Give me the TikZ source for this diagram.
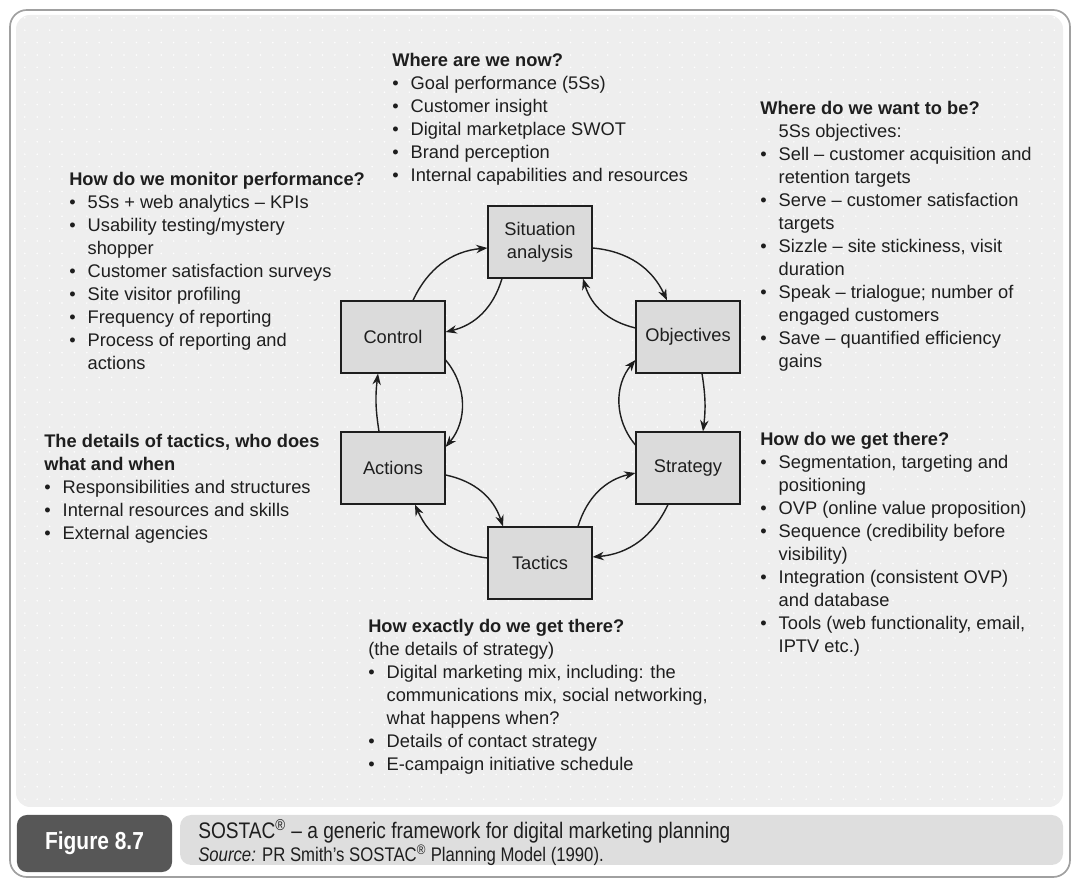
\documentclass[tikz,border=0pt]{standalone}
\usepackage{fontspec}
\setmainfont{Liberation Sans}
\newfontfamily\capfont[FakeStretch=0.85]{Liberation Sans}
\usepackage{tikz}
\usetikzlibrary{arrows.meta,patterns.meta}

\definecolor{panel}{HTML}{EEEEEE}
\definecolor{boxfill}{HTML}{DBDBDB}
\definecolor{ink}{HTML}{1E1E1E}
\definecolor{figbox}{HTML}{575757}
\definecolor{capbar}{HTML}{DEDEDE}
\definecolor{frame}{HTML}{A0A0A0}

\newcommand{\itm}[1]{\makebox[0.46cm][l]{\textbullet}#1}
\newcommand{\nxt}{\hspace*{0.46cm}}

\begin{document}
\begin{tikzpicture}[x=0.025cm,y=0.025cm,
  stage/.style={draw=ink,line width=0.8pt,fill=boxfill,minimum width=2.6cm,minimum height=1.8cm,align=center,text=ink,font=\fontsize{13}{16.35}\selectfont},
  info/.style={anchor=north west,align=left,inner sep=0pt,text=ink,font=\fontsize{13}{16.35}\selectfont},
  flow/.style={-{Stealth[length=8pt,width=6pt]},draw=ink,line width=1pt}]
\useasboundingbox (0,0) rectangle (1080,886);

% frame and panel
\draw[frame,line width=1.2pt,rounded corners=12pt] (10,9) rectangle (1070,876);
\fill[panel,rounded corners=10pt] (16,79) rectangle (1063,871);
\fill[pattern={Dots[distance=0.31cm,radius=0.6pt]},pattern color=white,rounded corners=10pt] (16,79) rectangle (1063,871);

% the six stages
\node[stage] (sit) at (540,644) {Situation\\analysis};
\node[stage] (obj) at (688,549) {Objectives};
\node[stage] (str) at (688,418) {Strategy};
\node[stage] (tac) at (540,323) {Tactics};
\node[stage] (act) at (393,418) {Actions};
\node[stage] (ctrl) at (393,549) {Control};

% outer loop
\path ([yshift=-0.15cm]sit.east) edge[flow,bend left=30] ([xshift=-0.525cm]obj.north);
\path ([xshift=0.35cm]obj.south) edge[flow,bend left=8] ([xshift=0.375cm]str.north);
\path ([xshift=-0.5cm]str.south) edge[flow,bend left=30] ([yshift=0.15cm]tac.east);
\path ([yshift=0.125cm]tac.west) edge[flow,bend left=30] ([xshift=0.55cm]act.south);
\path ([xshift=-0.35cm]act.north) edge[flow,bend left=8] ([xshift=-0.375cm]ctrl.south);
\path ([xshift=0.5cm]ctrl.north) edge[flow,bend left=30] ([yshift=-0.15cm]sit.west);
% inner loop
\path ([xshift=-0.95cm]sit.south) edge[flow,bend left=30] ([yshift=0.125cm]ctrl.east);
\path ([yshift=-0.575cm]ctrl.east) edge[flow,bend left=40] ([yshift=0.525cm]act.east);
\path ([yshift=-0.175cm]act.east) edge[flow,bend left=30] ([xshift=-0.925cm]tac.north);
\path ([xshift=0.95cm]tac.north) edge[flow,bend left=30] ([yshift=-0.125cm]str.west);
\path ([yshift=0.575cm]str.west) edge[flow,bend left=40] ([yshift=-0.575cm]obj.west);
\path ([yshift=0.225cm]obj.west) edge[flow,bend left=30] ([xshift=1.075cm]sit.south);

% notes
\node[info] (now) at (392,833) {\textbf{Where are we now?}\\
\itm{Goal performance (5Ss)}\\
\itm{Customer insight}\\
\itm{Digital marketplace SWOT}\\
\itm{Brand perception}\\
\itm{Internal capabilities and resources}};

\node[info] (want) at (760,785) {\textbf{Where do we want to be?}\\
\nxt 5Ss objectives:\\
\itm{Sell – customer acquisition and}\\
\nxt retention targets\\
\itm{Serve – customer satisfaction}\\
\nxt targets\\
\itm{Sizzle – site stickiness, visit}\\
\nxt duration\\
\itm{Speak – trialogue; number of}\\
\nxt engaged customers\\
\itm{Save – quantified efficiency}\\
\nxt gains};

\node[info] (monitor) at (69,714) {\textbf{How do we monitor performance?}\\
\itm{5Ss + web analytics – KPIs}\\
\itm{Usability testing/mystery}\\
\nxt shopper\\
\itm{Customer satisfaction surveys}\\
\itm{Site visitor profiling}\\
\itm{Frequency of reporting}\\
\itm{Process of reporting and}\\
\nxt actions};

\node[info] (details) at (44,452) {\textbf{The details of tactics, who does}\\
\textbf{what and when}\\
\itm{Responsibilities and structures}\\
\itm{Internal resources and skills}\\
\itm{External agencies}};

\node[info] (there) at (760,454) {\textbf{How do we get there?}\\
\itm{Segmentation, targeting and}\\
\nxt positioning\\
\itm{OVP (online value proposition)}\\
\itm{Sequence (credibility before}\\
\nxt visibility)\\
\itm{Integration (consistent OVP)}\\
\nxt and database\\
\itm{Tools (web functionality, email,}\\
\nxt IPTV etc.)};

\node[info] (exactly) at (368,267) {\textbf{How exactly do we get there?}\\
(the details of strategy)\\
\itm{Digital marketing mix, including: the}\\
\nxt communications mix, social networking,\\
\nxt what happens when?\\
\itm{Details of contact strategy}\\
\itm{E-campaign initiative schedule}};

% caption
\node[fill=figbox,rounded corners=7pt,minimum width=3.875cm,minimum height=1.425cm,text=white,font=\capfont\bfseries\fontsize{17.5}{20}\selectfont] (fig) at (94.5,42.5) {Figure 8.7};
\fill[capbar,rounded corners=8pt] (180,21) rectangle (1063,71);
\node[anchor=base west,inner sep=0pt,text=ink,font=\capfont\fontsize{16}{18}\selectfont] (title) at (198,47) {SOSTAC\textsuperscript{®} – a generic framework for digital marketing planning};
\node[anchor=base west,inner sep=0pt,text=ink,font=\capfont\fontsize{14}{15}\selectfont] (source) at (198,24) {\textit{Source:} PR Smith’s SOSTAC\textsuperscript{®} Planning Model (1990).};
\end{tikzpicture}
\end{document}
